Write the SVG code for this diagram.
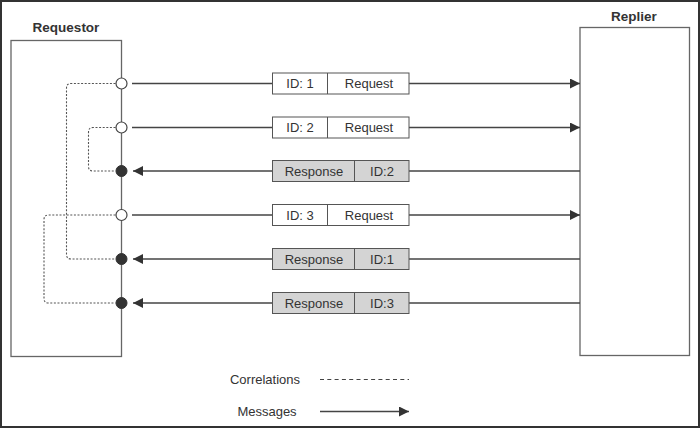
<svg xmlns="http://www.w3.org/2000/svg" width="700" height="428" viewBox="0 0 700 428">
<defs>
<style>
text{font-family:"Liberation Sans",Arial,sans-serif;font-size:13px;fill:#333}
.title{font-weight:bold;font-size:13.5px}
.actor{fill:#fff;stroke:#666;stroke-width:1.3}
.msg{stroke:#444;stroke-width:1.6;fill:none}
.corr{stroke:#555;stroke-width:1.1;fill:none;stroke-dasharray:2 1.6}
.req{fill:#fff;stroke:#555;stroke-width:1}
.res{fill:#d4d4d4;stroke:#555;stroke-width:1}
.open{fill:#fff;stroke:#444;stroke-width:1.2}
.fill{fill:#333;stroke:#333;stroke-width:1}
</style>
<marker id="arr" viewBox="0 0 10 10" refX="10" refY="5" markerWidth="10" markerHeight="10" markerUnits="userSpaceOnUse" orient="auto">
<path d="M0,0 L10,5 L0,10 Z" fill="#333"/>
</marker>
</defs>
<rect x="1" y="1" width="698" height="426" fill="#fff" stroke="#333" stroke-width="2"/>

<g id="requestor">
<rect class="actor" x="11" y="40.5" width="110.5" height="316"/>
<text class="title" x="66" y="32" text-anchor="middle">Requestor</text>
</g>
<g id="replier">
<rect class="actor" x="580" y="27.5" width="109.5" height="328"/>
<text class="title" x="634" y="21" text-anchor="middle">Replier</text>
</g>

<g id="connectors">
<path class="corr" d="M115.5,83.5 H71 Q66.5,83.5 66.5,88 V254.5 Q66.5,259 71,259 H115.5"/>
<path class="corr" d="M115.5,127.5 H93 Q88.5,127.5 88.5,132 V166.5 Q88.5,171 93,171 H115.5"/>
<path class="corr" d="M115.5,215 H48.5 Q44,215 44,219.5 V298.5 Q44,303 48.5,303 H115.5"/>
<line class="msg" x1="132" y1="83.5" x2="272" y2="83.5"/>
<line class="msg" x1="409" y1="83.5" x2="580" y2="83.5" marker-end="url(#arr)"/>
<line class="msg" x1="132" y1="127.5" x2="272" y2="127.5"/>
<line class="msg" x1="409" y1="127.5" x2="580" y2="127.5" marker-end="url(#arr)"/>
<line class="msg" x1="580" y1="171" x2="409" y2="171"/>
<line class="msg" x1="272" y1="171" x2="133" y2="171" marker-end="url(#arr)"/>
<line class="msg" x1="132" y1="215" x2="272" y2="215"/>
<line class="msg" x1="409" y1="215" x2="580" y2="215" marker-end="url(#arr)"/>
<line class="msg" x1="580" y1="259" x2="409" y2="259"/>
<line class="msg" x1="272" y1="259" x2="133" y2="259" marker-end="url(#arr)"/>
<line class="msg" x1="580" y1="303" x2="409" y2="303"/>
<line class="msg" x1="272" y1="303" x2="133" y2="303" marker-end="url(#arr)"/>
</g>

<g id="ports">
<circle class="open" cx="121.5" cy="83.5" r="5.5"/>
<circle class="open" cx="121.5" cy="127.5" r="5.5"/>
<circle class="fill" cx="121.5" cy="171" r="5.5"/>
<circle class="open" cx="121.5" cy="215" r="5.5"/>
<circle class="fill" cx="121.5" cy="259" r="5.5"/>
<circle class="fill" cx="121.5" cy="303" r="5.5"/>
</g>

<g id="msg1">
<rect class="req" x="272.5" y="73" width="136.5" height="21"/>
<line x1="327.5" y1="73" x2="327.5" y2="94" stroke="#555"/>
<text x="300" y="88" text-anchor="middle">ID: 1</text>
<text x="369" y="88" text-anchor="middle">Request</text>
</g>
<g id="msg2">
<rect class="req" x="272.5" y="117" width="136.5" height="21"/>
<line x1="327.5" y1="117" x2="327.5" y2="138" stroke="#555"/>
<text x="300" y="132" text-anchor="middle">ID: 2</text>
<text x="369" y="132" text-anchor="middle">Request</text>
</g>
<g id="msg3">
<rect class="res" x="272.5" y="160.5" width="136.5" height="21"/>
<line x1="354.5" y1="160.5" x2="354.5" y2="181.5" stroke="#555"/>
<text x="314" y="175.5" text-anchor="middle">Response</text>
<text x="382" y="175.5" text-anchor="middle">ID:2</text>
</g>
<g id="msg4">
<rect class="req" x="272.5" y="204.5" width="136.5" height="21"/>
<line x1="327.5" y1="204.5" x2="327.5" y2="225.5" stroke="#555"/>
<text x="300" y="219.5" text-anchor="middle">ID: 3</text>
<text x="369" y="219.5" text-anchor="middle">Request</text>
</g>
<g id="msg5">
<rect class="res" x="272.5" y="248.5" width="136.5" height="21"/>
<line x1="354.5" y1="248.5" x2="354.5" y2="269.5" stroke="#555"/>
<text x="314" y="263.5" text-anchor="middle">Response</text>
<text x="382" y="263.5" text-anchor="middle">ID:1</text>
</g>
<g id="msg6">
<rect class="res" x="272.5" y="292.5" width="136.5" height="21"/>
<line x1="354.5" y1="292.5" x2="354.5" y2="313.5" stroke="#555"/>
<text x="314" y="307.5" text-anchor="middle">Response</text>
<text x="382" y="307.5" text-anchor="middle">ID:3</text>
</g>

<g id="legend">
<text x="265" y="384" text-anchor="middle">Correlations</text>
<line x1="320" y1="379.5" x2="409" y2="379.5" stroke="#444" stroke-width="1.1" stroke-dasharray="4 3.3"/>
<text x="267" y="415.5" text-anchor="middle">Messages</text>
<line class="msg" x1="320" y1="411.5" x2="409" y2="411.5" marker-end="url(#arr)"/>
</g>
</svg>
